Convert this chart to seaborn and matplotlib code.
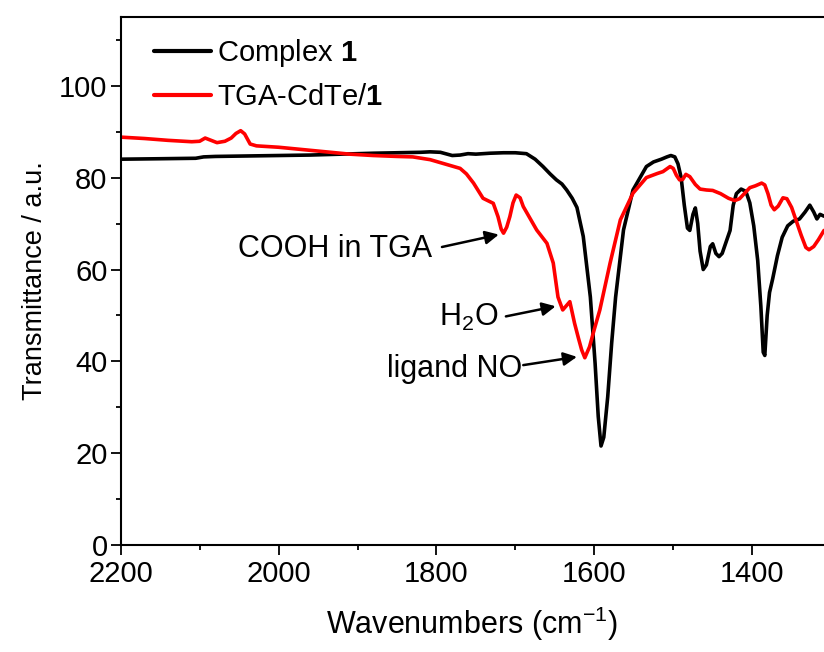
import numpy as np
import pandas as pd
import matplotlib
matplotlib.use("Agg")
import matplotlib.pyplot as plt
import seaborn as sns
from matplotlib.ticker import MultipleLocator

# ---- data ----
complex_wn = [2200, 2150, 2105, 2095, 2080, 2040, 2000, 1960, 1920, 1880, 1850, 1820,
              1808, 1795, 1780, 1770, 1760, 1750, 1732, 1715, 1700, 1686, 1675, 1665,
              1656, 1648, 1641, 1635, 1628, 1622, 1614, 1605, 1599, 1595, 1591.5, 1588,
              1583, 1578, 1573, 1563, 1551, 1534, 1525, 1515, 1508, 1503, 1498, 1494,
              1490, 1486, 1482, 1479, 1475, 1472, 1469, 1466, 1462, 1458, 1453, 1450,
              1446, 1442, 1438, 1433, 1428, 1424, 1420, 1414, 1408, 1403, 1398, 1393,
              1389, 1386, 1384, 1381, 1378, 1374, 1368, 1362, 1355, 1348, 1340, 1333,
              1327, 1322, 1318, 1314, 1309]
complex_t = [84.0, 84.1, 84.2, 84.5, 84.6, 84.7, 84.8, 84.9, 85.1, 85.3, 85.4, 85.5,
             85.6, 85.5, 84.8, 84.9, 85.2, 85.1, 85.3, 85.4, 85.4, 85.2, 84.0, 82.4,
             80.8, 79.5, 78.6, 77.3, 75.5, 73.5, 67.2, 54.0, 39.6, 28.0, 21.6, 23.5,
             32.3, 44.0, 54.0, 68.6, 77.3, 82.4, 83.4, 84.0, 84.5, 84.8, 84.5, 83.0,
             80.0, 74.0, 69.0, 68.5, 72.0, 73.4, 70.0, 64.0, 60.0, 61.0, 65.0, 65.6,
             63.5, 62.8, 63.5, 66.0, 68.5, 74.0, 76.5, 77.5, 77.0, 74.5, 69.5, 62.0,
             52.0, 42.0, 41.3, 50.0, 55.0, 58.0, 63.0, 67.0, 69.5, 70.5, 71.0, 72.5,
             74.0, 72.5, 71.0, 72.0, 71.6]

tga_wn = [2200, 2170, 2140, 2110, 2100, 2093, 2087, 2078, 2068, 2060, 2054, 2048,
          2043, 2036, 2028, 2000, 1970, 1940, 1910, 1880, 1850, 1830, 1808, 1790,
          1770, 1762, 1753, 1741, 1728, 1722, 1718, 1715, 1711, 1707, 1703, 1699,
          1694, 1690, 1681, 1673, 1660, 1652, 1646, 1640, 1635, 1631, 1625, 1620,
          1616, 1612, 1606, 1600, 1593, 1580, 1567, 1551, 1534, 1520, 1513, 1504,
          1500, 1496, 1492, 1488, 1484, 1479, 1472, 1466, 1458, 1450, 1440, 1430,
          1422, 1416, 1410, 1403, 1396, 1388, 1384, 1380, 1376, 1372, 1367, 1361,
          1356, 1350, 1344, 1338, 1332, 1328, 1322, 1316, 1309]
tga_t = [88.8, 88.5, 88.1, 87.8, 87.9, 88.6, 88.2, 87.6, 87.9, 88.6, 89.6, 90.2,
         89.5, 87.3, 86.9, 86.6, 86.1, 85.6, 85.1, 84.8, 84.6, 84.5, 83.9, 83.0,
         82.0, 80.8, 78.8, 75.5, 74.4, 71.5, 68.8, 67.9, 69.2, 71.5, 74.5, 76.2,
         75.6, 73.7, 71.0, 68.6, 65.7, 61.4, 54.0, 51.2, 52.2, 53.0, 48.3, 45.0,
         42.5, 40.8, 43.2, 47.0, 51.2, 61.4, 70.8, 76.6, 80.0, 80.9, 81.3, 82.4,
         82.0, 80.5, 79.5, 79.6, 80.7, 80.2, 78.5, 77.5, 77.3, 77.2, 76.5, 75.5,
         75.0, 75.4, 76.5, 77.8, 78.2, 78.8, 78.4, 76.5, 74.0, 73.0, 73.8, 75.6,
         75.4, 73.5, 70.5, 67.5, 64.8, 64.3, 65.0, 66.5, 68.5]

series_labels = ["Complex $\\mathbf{1}$", "TGA-CdTe/$\\mathbf{1}$"]
series_colors = ["black", "#ff0000"]

annotations = ["COOH in TGA", "H$_2$O", "ligand NO"]
ann_text_pos = [(1806, 62.7), (1722, 47.7), (1691, 36.7)]
ann_arrow_start = [(1793, 64.9), (1712, 49.8), (1690, 39.2)]
ann_arrow_tip = [(1721, 67.6), (1649, 52.0), (1622, 41.0)]

x_major = [2200, 2000, 1800, 1600, 1400]

# ---- style ----
sns.set_style("ticks")
plt.rcParams["font.family"] = ["Liberation Sans", "DejaVu Sans"]
plt.rcParams["mathtext.fontset"] = "custom"
plt.rcParams["mathtext.rm"] = "Liberation Sans"
plt.rcParams["mathtext.it"] = "Liberation Sans:italic"
plt.rcParams["mathtext.bf"] = "Liberation Sans:bold"
plt.rcParams["axes.unicode_minus"] = True
for k in ["text.color", "axes.labelcolor", "xtick.color", "ytick.color",
          "axes.edgecolor"]:
    plt.rcParams[k] = "black"

FS_TICK = 21
FS_LEG = 21
FS_ANN = 22

fig = plt.figure(figsize=(8.24, 6.52), dpi=100)
W, H = 824, 652
x0, x1, y0, y1 = 120.7, 824.0, 545.3, 16.7
ax = fig.add_axes([x0 / W, (H - y0) / H, (x1 - x0) / W, (y0 - y1) / H])

df1 = pd.DataFrame({"wn": complex_wn, "t": complex_t})
df2 = pd.DataFrame({"wn": tga_wn, "t": tga_t})
sns.lineplot(data=df1, x="wn", y="t", ax=ax, color=series_colors[0], lw=2.6,
             estimator=None, label=series_labels[0])
sns.lineplot(data=df2, x="wn", y="t", ax=ax, color=series_colors[1], lw=2.6,
             estimator=None, label=series_labels[1])

ax.set_xlim(2200, 1309)
ax.set_ylim(0, 115)
ax.set_xticks(x_major)
ax.xaxis.set_minor_locator(MultipleLocator(100))
ax.yaxis.set_major_locator(MultipleLocator(20))
ax.yaxis.set_minor_locator(MultipleLocator(10))
ax.tick_params(which="major", direction="out", length=7.5, width=1.3,
               labelsize=FS_TICK, pad=2)
ax.tick_params(axis="x", which="major", pad=3)
ax.tick_params(which="minor", direction="out", length=3.8, width=1.3)
ax.spines["right"].set_visible(False)
for s in ["top", "bottom", "left"]:
    ax.spines[s].set_linewidth(1.5)

ax.set_xlabel("Wavenumbers (cm$^{\u22121}$)", fontsize=22, labelpad=12)
ax.set_ylabel("Transmittance / a.u.", fontsize=19.5, labelpad=8)

leg = ax.legend(loc="upper left", bbox_to_anchor=(0.047, 0.962), frameon=False,
                fontsize=FS_LEG, handlelength=1.95, handletextpad=0.22,
                labelspacing=0.5, borderaxespad=0, borderpad=0)
for line in leg.get_lines():
    line.set_linewidth(3)

for txt, tp, a0, a1 in zip(annotations, ann_text_pos, ann_arrow_start, ann_arrow_tip):
    ax.text(tp[0], tp[1], txt, fontsize=FS_ANN, ha="right", va="baseline")
    ax.annotate("", xy=a1, xytext=a0,
                arrowprops=dict(arrowstyle="-|>", color="black", lw=1.8,
                                mutation_scale=20, shrinkA=0, shrinkB=0))

fig.savefig("out.png", dpi=100)
